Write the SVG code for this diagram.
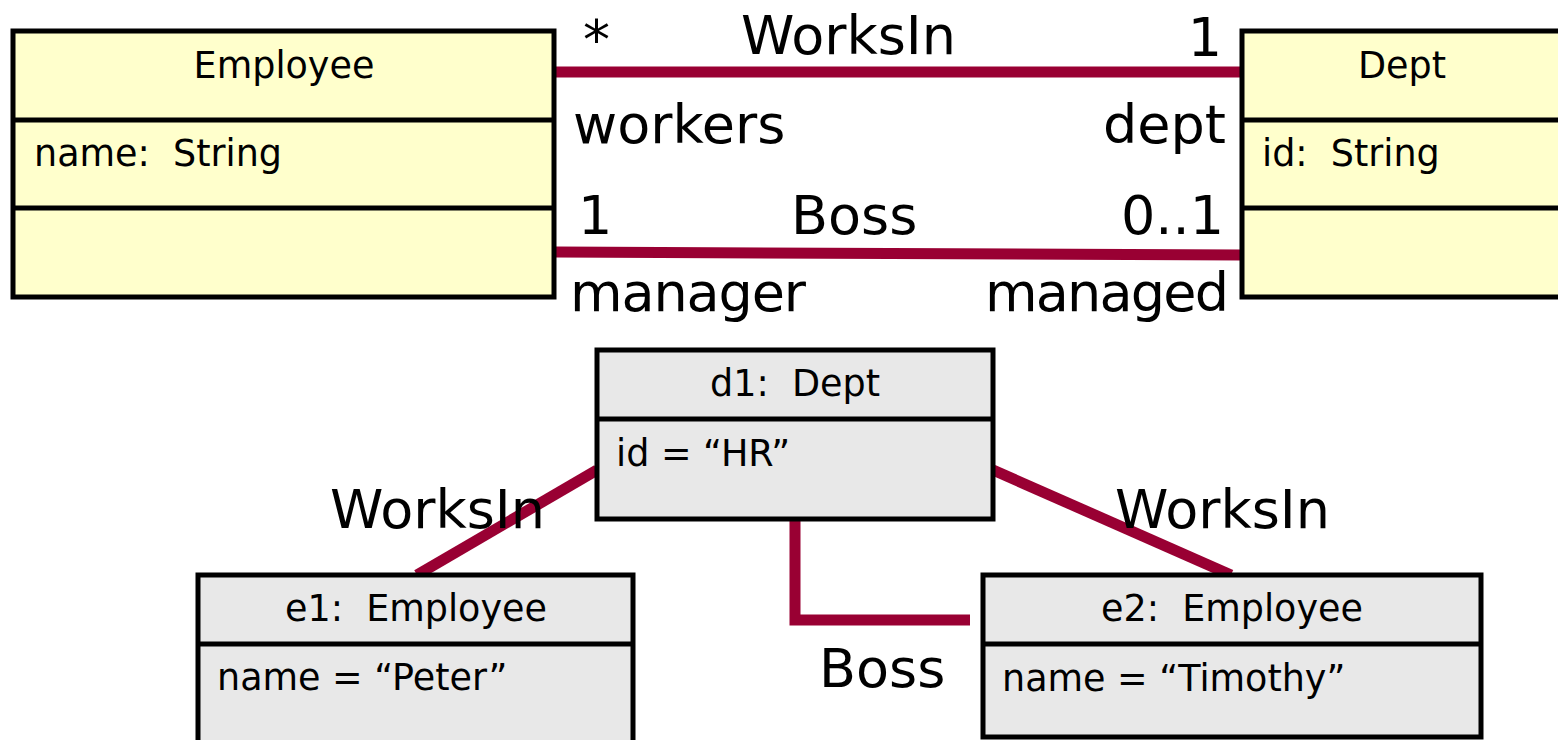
<svg xmlns="http://www.w3.org/2000/svg" width="1558" height="740" viewBox="0 0 1558 740">
<style>
.cls{fill:#FFFFCC;stroke:#000;stroke-width:5}
.obj{fill:#E8E8E8;stroke:#000;stroke-width:5}
.div{stroke:#000;stroke-width:5}
.t{font-family:"DejaVu Sans",sans-serif;font-size:36.5px;fill:#000;white-space:pre}
.big{font-family:"DejaVu Sans",sans-serif;font-size:54px;fill:#000}
.c{text-anchor:middle}
.e{text-anchor:end}
.lnk{stroke:#990033;stroke-width:11;fill:none}
</style>
<rect width="1558" height="740" fill="#fff"/>
<g id="connectors">
<line class="lnk" x1="556" y1="72" x2="1241" y2="72"/>
<line class="lnk" x1="556" y1="252" x2="1241" y2="255"/>
<line class="lnk" x1="597" y1="470" x2="417" y2="575"/>
<line class="lnk" x1="993" y1="470" x2="1231" y2="575"/>
<polyline class="lnk" points="795,519 795,620 970,620"/>
</g>
<g id="labels">
<text class="big" x="583" y="58">*</text>
<text class="big" x="741" y="54">WorksIn</text>
<text class="big e" x="1222" y="56">1</text>
<text class="big" x="573" y="143">workers</text>
<text class="big e" x="1226" y="143">dept</text>
<text class="big" x="578" y="234">1</text>
<text class="big" x="791" y="234">Boss</text>
<text class="big e" x="1224" y="234">0..1</text>
<text class="big" x="570" y="311" textLength="236">manager</text>
<text class="big e" x="1229" y="311" textLength="244">managed</text>
<text class="big" x="330" y="528">WorksIn</text>
<text class="big" x="1115" y="528">WorksIn</text>
<text class="big" x="819" y="687">Boss</text>
</g>
<g id="Employee">
<rect class="cls" x="13" y="31" width="541" height="266"/>
<line class="div" x1="13" y1="120" x2="554" y2="120"/>
<line class="div" x1="13" y1="208" x2="554" y2="208"/>
<text class="t c" x="284" y="78">Employee</text>
<text class="t" x="34" y="166">name:  String</text>
</g>
<g id="Dept">
<rect class="cls" x="1242" y="31" width="330" height="266"/>
<line class="div" x1="1242" y1="120" x2="1572" y2="120"/>
<line class="div" x1="1242" y1="208" x2="1572" y2="208"/>
<text class="t c" x="1402" y="78">Dept</text>
<text class="t" x="1262" y="166">id:  String</text>
</g>
<g id="d1">
<rect class="obj" x="597" y="350" width="396" height="169"/>
<line class="div" x1="597" y1="419" x2="993" y2="419"/>
<text class="t c" x="795" y="396">d1:  Dept</text>
<text class="t" x="616" y="466">id = “HR”</text>
</g>
<g id="e1">
<rect class="obj" x="198" y="575" width="435" height="180"/>
<line class="div" x1="198" y1="644" x2="633" y2="644"/>
<text class="t c" x="416" y="621">e1:  Employee</text>
<text class="t" x="217" y="690">name = “Peter”</text>
</g>
<g id="e2">
<rect class="obj" x="983" y="575" width="498" height="162"/>
<line class="div" x1="983" y1="644" x2="1481" y2="644"/>
<text class="t c" x="1232" y="621">e2:  Employee</text>
<text class="t" x="1002" y="691">name = “Timothy”</text>
</g>
</svg>
